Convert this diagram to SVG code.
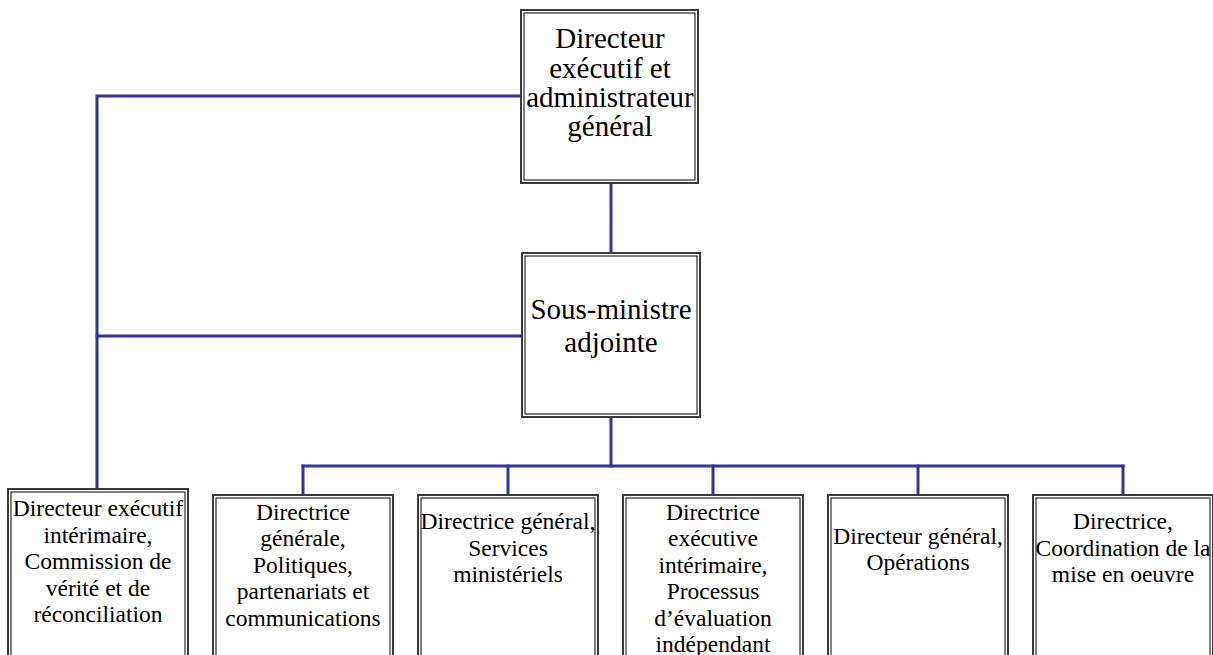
<svg xmlns="http://www.w3.org/2000/svg" width="1213" height="655" viewBox="0 0 1213 655">
<style>
.outer{fill:#fff;stroke:#3a3a3a;stroke-width:2}
.inner{fill:none;stroke:#000;stroke-width:1}
.conn{stroke:#33339a;stroke-width:3;fill:none;stroke-linecap:square}
text{font-family:"Liberation Serif","Times New Roman","DejaVu Serif",serif;fill:#000;text-anchor:middle}
.t1{font-size:29px}
.t2{font-size:29px}
.t3{font-size:23.5px}
</style>
<rect width="1213" height="655" fill="#fff"/>
<g id="connectors">
<polyline class="conn" points="521,96 97,96 97,489"/>
<line class="conn" x1="97" y1="336" x2="522" y2="336"/>
<line class="conn" x1="611" y1="183" x2="611" y2="253"/>
<line class="conn" x1="611" y1="417" x2="611" y2="466"/>
<line class="conn" x1="303" y1="466" x2="1123" y2="466"/>
<line class="conn" x1="303" y1="466" x2="303" y2="495"/>
<line class="conn" x1="508" y1="466" x2="508" y2="495"/>
<line class="conn" x1="713" y1="466" x2="713" y2="495"/>
<line class="conn" x1="918" y1="466" x2="918" y2="495"/>
<line class="conn" x1="1123" y1="466" x2="1123" y2="495"/>
</g>
<g id="node-directeur-executif" font-family="Liberation Serif, serif">
<rect class="outer" x="521" y="10" width="177" height="173"/>
<rect class="inner" x="524" y="13" width="171" height="167"/>
<text class="t1" x="610" y="48">Directeur</text>
<text class="t1" x="610" y="78">exécutif et</text>
<text class="t1" x="610" y="107">administrateur</text>
<text class="t1" x="610" y="136">général</text>
</g>
<g id="node-sous-ministre">
<rect class="outer" x="522" y="253" width="178" height="164"/>
<rect class="inner" x="525" y="256" width="172" height="158"/>
<text class="t2" x="611" y="319">Sous-ministre</text>
<text class="t2" x="611" y="352">adjointe</text>
</g>
<g id="node-cvr">
<rect class="outer" x="8" y="489" width="180" height="180"/>
<rect class="inner" x="11" y="492" width="174" height="180"/>
<text class="t3" x="98" y="516">Directeur exécutif</text>
<text class="t3" x="98" y="543">intérimaire,</text>
<text class="t3" x="98" y="569">Commission de</text>
<text class="t3" x="98" y="596">vérité et de</text>
<text class="t3" x="98" y="622">réconciliation</text>
</g>
<g id="node-politiques">
<rect class="outer" x="213" y="495" width="180" height="180"/>
<rect class="inner" x="216" y="498" width="174" height="180"/>
<text class="t3" x="303" y="520">Directrice</text>
<text class="t3" x="303" y="546">générale,</text>
<text class="t3" x="303" y="573">Politiques,</text>
<text class="t3" x="303" y="599">partenariats et</text>
<text class="t3" x="303" y="626">communications</text>
</g>
<g id="node-services">
<rect class="outer" x="418" y="495" width="180" height="180"/>
<rect class="inner" x="421" y="498" width="174" height="180"/>
<text class="t3" x="508" y="529">Directrice général,</text>
<text class="t3" x="508" y="556">Services</text>
<text class="t3" x="508" y="582">ministériels</text>
</g>
<g id="node-evaluation">
<rect class="outer" x="623" y="495" width="180" height="180"/>
<rect class="inner" x="626" y="498" width="174" height="180"/>
<text class="t3" x="713" y="520">Directrice</text>
<text class="t3" x="713" y="546">exécutive</text>
<text class="t3" x="713" y="573">intérimaire,</text>
<text class="t3" x="713" y="599">Processus</text>
<text class="t3" x="713" y="626">d’évaluation</text>
<text class="t3" x="713" y="652">indépendant</text>
</g>
<g id="node-operations">
<rect class="outer" x="828" y="495" width="180" height="180"/>
<rect class="inner" x="831" y="498" width="174" height="180"/>
<text class="t3" x="918" y="544">Directeur général,</text>
<text class="t3" x="918" y="570">Opérations</text>
</g>
<g id="node-coordination">
<rect class="outer" x="1033" y="495" width="180" height="180"/>
<rect class="inner" x="1036" y="498" width="174" height="180"/>
<text class="t3" x="1123" y="529">Directrice,</text>
<text class="t3" x="1123" y="556">Coordination de la</text>
<text class="t3" x="1123" y="582">mise en oeuvre</text>
</g>
</svg>
